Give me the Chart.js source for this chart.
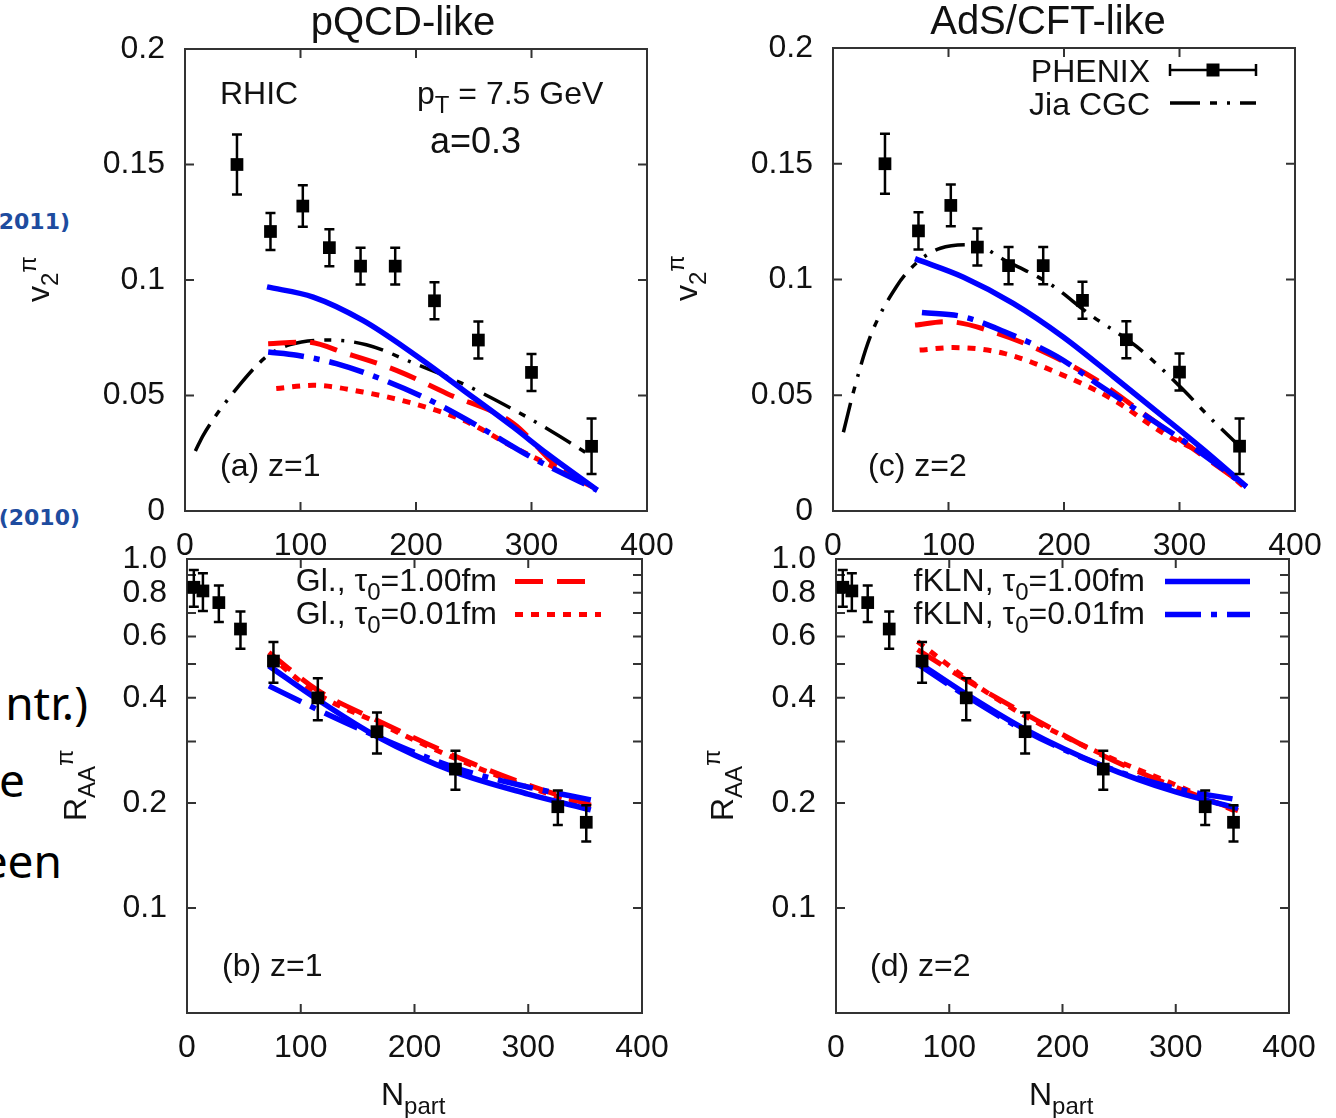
<!DOCTYPE html>
<html>
<head>
<meta charset="utf-8">
<script src="https://cdn.jsdelivr.net/npm/chart.js@4.4.1/dist/chart.umd.min.js"></script>
<style>
  body { margin: 0; background: #fff; }
  #page { position: relative; width: 1336px; height: 1118px; overflow: hidden; background: #fff; }
  #page canvas { position: absolute; }
  .slide { position: absolute; white-space: nowrap; text-align: right; }
  .ref { font-family: "DejaVu Sans", sans-serif; font-weight: bold; font-size: 22px; line-height: 26px; color: #1e4c9f; }
  .big { font-family: "Noto Sans", sans-serif; font-size: 46px; line-height: 54px; color: #000; }
</style>
</head>
<body>
<div id="page">
  <div class="slide ref" style="right:1266px; top:209px;">2011)</div>
  <div class="slide ref" style="right:1256px; top:505px;">(2010)</div>
  <div class="slide big" style="right:1248px; top:675px;">ntr.)</div>
  <div class="slide big" style="right:1311px; top:752px;">e</div>
  <div class="slide big" style="right:1274px; top:833px;">een</div>
  <canvas id="pa"></canvas>
  <canvas id="pc"></canvas>
  <canvas id="pb"></canvas>
  <canvas id="pd"></canvas>
</div>
<script>
// axis ticks
const xTicks = [0, 100, 200, 300, 400];
const v2Ticks = [0, 0.05, 0.1, 0.15, 0.2];
const v2TickText = ['0', '0.05', '0.1', '0.15', '0.2'];
const raaTicks = [0.1, 0.2, 0.3, 0.4, 0.5, 0.6, 0.7, 0.8, 0.9, 1.0];
const raaTickText = ['0.1', '0.2', '', '0.4', '', '0.6', '', '0.8', '', '1.0'];

// PHENIX data, v2 of pi0 at pT = 7.5 GeV
const nPartV2 = [45, 74, 102, 125, 152, 182, 216, 254, 300, 352];
const v2Phenix = [0.150, 0.121, 0.132, 0.114, 0.106, 0.106, 0.091, 0.074, 0.060, 0.028];
const v2Err = [0.013, 0.008, 0.009, 0.008, 0.008, 0.008, 0.008, 0.008, 0.008, 0.012];

// PHENIX data, R_AA
const nPartRaa = [6, 14, 28, 47, 76, 115, 167, 236, 326, 351];
const raaPhenix = [0.83, 0.81, 0.75, 0.63, 0.51, 0.40, 0.32, 0.25, 0.195, 0.176];
const raaErr = [0.10, 0.10, 0.09, 0.077, 0.068, 0.055, 0.043, 0.032, 0.022, 0.021];

// (a) z=1 v2 curves
const nJiaA = [9, 16, 48, 71, 91, 123, 157, 198, 241, 284, 319, 351];
const vJiaA = [0.026, 0.033, 0.055, 0.067, 0.072, 0.074, 0.072, 0.064, 0.055, 0.044, 0.034, 0.024];
const nBlueSolidA = [71, 111, 154, 198, 241, 284, 313, 357];
const vBlueSolidA = [0.097, 0.0926, 0.0825, 0.068, 0.0523, 0.0364, 0.025, 0.009];
const nBlueDashDotA = [72, 97, 131, 169, 212, 255, 299, 357];
const vBlueDashDotA = [0.0688, 0.0674, 0.0638, 0.0573, 0.048, 0.0364, 0.0235, 0.009];
const nRedDashA = [72, 105, 140, 183, 227, 284, 323, 356];
const vRedDashA = [0.0724, 0.0731, 0.0681, 0.0609, 0.0508, 0.038, 0.019, 0.0095];
const nRedDotA = [79, 111, 154, 198, 241, 284, 319, 345];
const vRedDotA = [0.053, 0.0544, 0.0515, 0.0465, 0.0393, 0.0278, 0.0191, 0.013];

// (c) z=2 v2 curves
const nJiaC = [9, 18, 32, 55, 72, 93, 121, 150, 188, 222, 263, 300, 329, 352];
const vJiaC = [0.034, 0.052, 0.075, 0.097, 0.107, 0.1135, 0.115, 0.108, 0.098, 0.085, 0.071, 0.054, 0.039, 0.028];
const nBlueSolidC = [71, 113, 156, 199, 243, 286, 321, 358];
const vBlueSolidC = [0.109, 0.101, 0.0897, 0.0753, 0.058, 0.0407, 0.0264, 0.0105];
const nBlueDashDotC = [77, 113, 148, 194, 228, 272, 315, 358];
const vBlueDashDotC = [0.0857, 0.0839, 0.0775, 0.0667, 0.0552, 0.0407, 0.0264, 0.0105];
const nRedDashC = [71, 98, 142, 185, 228, 272, 315, 358];
const vRedDashC = [0.0803, 0.0818, 0.0768, 0.0681, 0.0566, 0.041, 0.0257, 0.0105];
const nRedDotC = [75, 104, 148, 199, 243, 286, 324, 358];
const vRedDotC = [0.0695, 0.0706, 0.0681, 0.0587, 0.048, 0.0336, 0.0235, 0.0095];

// R_AA curves, (b) z=1 and (d) z=2
const nRaaCurve = [72, 115, 167, 236, 300, 355];
const raaRedDashB = [0.54, 0.42, 0.345, 0.272, 0.225, 0.197];
const raaRedDotB = [0.53, 0.41, 0.34, 0.268, 0.222, 0.195];
const raaBlueSolidB = [0.494, 0.395, 0.31, 0.245, 0.212, 0.191];
const raaBlueDashDotB = [0.433, 0.37, 0.31, 0.252, 0.222, 0.204];
const raaRedDashD = [0.55, 0.45, 0.36, 0.273, 0.222, 0.19];
const raaRedDotD = [0.58, 0.455, 0.355, 0.275, 0.225, 0.188];
const raaBlueSolidD = [0.507, 0.41, 0.325, 0.255, 0.215, 0.193];
const raaBlueDashDotD = [0.50, 0.405, 0.322, 0.255, 0.22, 0.204];

const FONT = '"Liberation Sans", Arial, sans-serif';
const INK = '#111';

function pts(xs, ys) {
    return xs.map((x, i) => ({ x: x, y: ys[i] }));
}

// line styles (same look in all four panels)
function curve(xs, ys, kind) {
    const st = {
        blueSolid: { c: '#0000ff', w: 5.5, d: [] },
        blueDashDot: { c: '#0000ff', w: 5.5, d: [36, 10, 6, 10] },
        redDash: { c: '#ff0000', w: 5, d: [28, 14] },
        redDot: { c: '#ff0000', w: 5, d: [8, 8] },
        jia: { c: '#000000', w: 3.5, d: [30, 10, 7, 10, 3, 10] },
    }[kind];
    return {
        data: pts(xs, ys),
        showLine: true,
        pointRadius: 0,
        borderColor: st.c,
        borderWidth: st.w,
        borderDash: st.d,
        borderCapStyle: 'butt',
        cubicInterpolationMode: 'monotone',
    };
}

function phenix(xs, ys, errs) {
    return {
        data: pts(xs, ys),
        errs: errs,
        showLine: false,
        pointStyle: 'rect',
        pointRadius: 9,
        pointBackgroundColor: '#000',
        pointBorderWidth: 0,
    };
}

// text with sub (1) / superscript (2) pieces
function drawRich(ctx, segs, x, y, size, align) {
    const small = size * 0.75;
    const parts = segs.map(s => {
        const sz = s[1] ? small : size;
        ctx.font = sz + 'px ' + FONT;
        return { t: s[0], m: s[1] || 0, sz: sz, w: ctx.measureText(s[0]).width };
    });
    const total = parts.reduce((a, p) => a + p.w, 0);
    let cx = align === 'right' ? x - total : align === 'center' ? x - total / 2 : x;
    parts.forEach(p => {
        ctx.font = p.sz + 'px ' + FONT;
        const dy = p.m === 1 ? size * 0.28 : p.m === 2 ? -size * 0.42 : 0;
        ctx.fillText(p.t, cx, y + dy);
        cx += p.w;
    });
}

// gnuplot look: box, inward mirrored ticks, error bars, labels, key
const gnuplotLook = {
    id: 'gp',
    beforeDatasetsDraw(chart) {
        const { ctx, chartArea: a, scales: { x, y } } = chart;
        ctx.save();
        ctx.strokeStyle = '#333';
        ctx.lineWidth = 2;
        ctx.setLineDash([]);
        ctx.strokeRect(a.left, a.top, a.right - a.left, a.bottom - a.top);
        ctx.beginPath();
        x.ticks.forEach(t => {
            if (t.value <= x.min || t.value >= x.max) return;
            const p = x.getPixelForValue(t.value);
            ctx.moveTo(p, a.bottom); ctx.lineTo(p, a.bottom - 9);
            ctx.moveTo(p, a.top); ctx.lineTo(p, a.top + 9);
        });
        y.ticks.forEach(t => {
            if (t.value <= y.min || t.value >= y.max) return;
            const p = y.getPixelForValue(t.value);
            ctx.moveTo(a.left, p); ctx.lineTo(a.left + 9, p);
            ctx.moveTo(a.right, p); ctx.lineTo(a.right - 9, p);
        });
        ctx.stroke();
        ctx.restore();
    },
    afterDatasetsDraw(chart, args, o) {
        const { ctx, chartArea: a, scales: { y } } = chart;
        ctx.save();
        // error bars
        ctx.strokeStyle = '#000';
        ctx.lineWidth = 2.5;
        chart.data.datasets.forEach((ds, i) => {
            if (!ds.errs) return;
            const meta = chart.getDatasetMeta(i);
            ds.data.forEach((d, j) => {
                const px = meta.data[j].x;
                const y1 = y.getPixelForValue(d.y + ds.errs[j]);
                const y2 = y.getPixelForValue(d.y - ds.errs[j]);
                ctx.beginPath();
                ctx.moveTo(px, y1); ctx.lineTo(px, y2);
                ctx.moveTo(px - 5, y1); ctx.lineTo(px + 5, y1);
                ctx.moveTo(px - 5, y2); ctx.lineTo(px + 5, y2);
                ctx.stroke();
            });
        });
        // labels
        ctx.fillStyle = INK;
        ctx.textBaseline = 'alphabetic';
        (o.texts || []).forEach(t => {
            drawRich(ctx, t.segs, a.left + t.dx, a.top + t.dy, t.size || 32, t.align || 'left');
        });
        if (o.ytitle) {
            ctx.save();
            ctx.translate(a.left + o.ytitle.dx, a.top + o.ytitle.dy);
            ctx.rotate(-Math.PI / 2);
            drawRich(ctx, o.ytitle.segs, 0, 0, 32, 'left');
            ctx.restore();
        }
        // key
        (o.key || []).forEach(k => {
            ctx.fillStyle = INK;
            drawRich(ctx, k.segs, a.left + k.dx, a.top + k.dy, 32, 'right');
            const x1 = a.left + k.x1, x2 = a.left + k.x2, ly = a.top + k.ly;
            const ds = chart.data.datasets[k.ds];
            ctx.beginPath();
            if (ds.errs) {
                ctx.strokeStyle = '#000';
                ctx.lineWidth = 2.5;
                ctx.setLineDash([]);
                ctx.moveTo(x1, ly); ctx.lineTo(x2, ly);
                ctx.moveTo(x1, ly - 6); ctx.lineTo(x1, ly + 6);
                ctx.moveTo(x2, ly - 6); ctx.lineTo(x2, ly + 6);
                ctx.stroke();
                ctx.fillStyle = '#000';
                ctx.fillRect((x1 + x2) / 2 - 6.5, ly - 6.5, 13, 13);
            } else {
                ctx.strokeStyle = ds.borderColor;
                ctx.lineWidth = ds.borderWidth;
                ctx.setLineDash(ds.borderDash);
                ctx.moveTo(x1, ly); ctx.lineTo(x2, ly);
                ctx.stroke();
            }
        });
        ctx.restore();
    }
};

function panel(id, box, logY, datasets, gp) {
    const cv = document.getElementById(id);
    cv.style.left = (box.l - 170) + 'px';
    cv.style.top = (box.t - 50) + 'px';
    cv.width = box.r - box.l + 215;
    cv.height = box.b - box.t + 155;
    const tickFont = { family: FONT, size: 32 };
    const yScale = logY ? {
        type: 'logarithmic', min: 0.05, max: 1.0,
        afterBuildTicks: s => { s.ticks = raaTicks.map(v => ({ value: v })); },
        ticks: { callback: (v, i) => raaTickText[i], autoSkip: false, padding: 12, font: tickFont, color: INK },
    } : {
        type: 'linear', min: 0, max: 0.2,
        afterBuildTicks: s => { s.ticks = v2Ticks.map(v => ({ value: v })); },
        ticks: { callback: (v, i) => v2TickText[i], autoSkip: false, padding: 12, font: tickFont, color: INK },
    };
    yScale.afterFit = s => { s.width = 170; };
    yScale.grid = { display: false };
    yScale.border = { display: false };
    new Chart(cv, {
        type: 'scatter',
        data: { datasets: datasets },
        options: {
            responsive: false,
            animation: false,
            events: [],
            layout: { padding: { top: 50, right: 45, left: 0, bottom: 0 } },
            plugins: { legend: { display: false }, tooltip: { enabled: false }, gp: gp },
            scales: {
                x: {
                    type: 'linear', min: 0, max: 400,
                    afterBuildTicks: s => { s.ticks = xTicks.map(v => ({ value: v })); },
                    afterFit: s => { s.height = 105; },
                    ticks: { autoSkip: false, maxRotation: 0, padding: 8, font: tickFont, color: INK },
                    grid: { display: false },
                    border: { display: false },
                },
                y: yScale,
            },
        },
        plugins: [gnuplotLook],
    });
}

const tau = (t) => [['Gl., '], ['τ'], ['0', 1], ['=' + t + 'fm']];
const tauK = (t) => [['fKLN, '], ['τ'], ['0', 1], ['=' + t + 'fm']];

// (a) pQCD-like, z=1
panel('pa', { l: 185, t: 49, r: 647, b: 511 }, false, [
    phenix(nPartV2, v2Phenix, v2Err),
    curve(nBlueSolidA, vBlueSolidA, 'blueSolid'),
    curve(nBlueDashDotA, vBlueDashDotA, 'blueDashDot'),
    curve(nRedDashA, vRedDashA, 'redDash'),
    curve(nRedDotA, vRedDotA, 'redDot'),
    curve(nJiaA, vJiaA, 'jia'),
], {
    texts: [
        { segs: [['pQCD-like']], dx: 218, dy: -14, size: 40, align: 'center' },
        { segs: [['RHIC']], dx: 35, dy: 55 },
        { segs: [['p'], ['T', 1], [' = 7.5 GeV']], dx: 232, dy: 55 },
        { segs: [['a=0.3']], dx: 245, dy: 104, size: 36 },
        { segs: [['(a) z=1']], dx: 35, dy: 427 },
    ],
    ytitle: { segs: [['v'], ['2', 1], ['π', 2]], dx: -136, dy: 253 },
});

// (c) AdS/CFT-like, z=2
panel('pc', { l: 833, t: 48, r: 1295, b: 511 }, false, [
    phenix(nPartV2, v2Phenix, v2Err),
    curve(nBlueSolidC, vBlueSolidC, 'blueSolid'),
    curve(nBlueDashDotC, vBlueDashDotC, 'blueDashDot'),
    curve(nRedDashC, vRedDashC, 'redDash'),
    curve(nRedDotC, vRedDotC, 'redDot'),
    curve(nJiaC, vJiaC, 'jia'),
], {
    texts: [
        { segs: [['AdS/CFT-like']], dx: 215, dy: -14, size: 40, align: 'center' },
        { segs: [['(c) z=2']], dx: 35, dy: 428 },
    ],
    ytitle: { segs: [['v'], ['2', 1], ['π', 2]], dx: -136, dy: 253 },
    key: [
        { segs: [['PHENIX']], dx: 317, dy: 33.5, ds: 0, x1: 337, x2: 423, ly: 22 },
        { segs: [['Jia CGC']], dx: 317, dy: 66.5, ds: 5, x1: 337, x2: 423, ly: 55 },
    ],
});

// (b) z=1 R_AA
panel('pb', { l: 187, t: 559, r: 642, b: 1013 }, true, [
    phenix(nPartRaa, raaPhenix, raaErr),
    curve(nRaaCurve, raaBlueSolidB, 'blueSolid'),
    curve(nRaaCurve, raaBlueDashDotB, 'blueDashDot'),
    curve(nRaaCurve, raaRedDashB, 'redDash'),
    curve(nRaaCurve, raaRedDotB, 'redDot'),
], {
    texts: [
        { segs: [['(b) z=1']], dx: 35, dy: 417 },
        { segs: [['N'], ['part', 1]], dx: 194, dy: 546 },
    ],
    ytitle: { segs: [['R'], ['AA', 1], ['π', 2]], dx: -101, dy: 262 },
    key: [
        { segs: tau('1.00'), dx: 310, dy: 32, ds: 3, x1: 328, x2: 410, ly: 22.5 },
        { segs: tau('0.01'), dx: 310, dy: 65, ds: 4, x1: 328, x2: 414, ly: 55.5 },
    ],
});

// (d) z=2 R_AA
panel('pd', { l: 836, t: 559, r: 1289, b: 1013 }, true, [
    phenix(nPartRaa, raaPhenix, raaErr),
    curve(nRaaCurve, raaBlueSolidD, 'blueSolid'),
    curve(nRaaCurve, raaBlueDashDotD, 'blueDashDot'),
    curve(nRaaCurve, raaRedDashD, 'redDash'),
    curve(nRaaCurve, raaRedDotD, 'redDot'),
], {
    texts: [
        { segs: [['(d) z=2']], dx: 34, dy: 417 },
        { segs: [['N'], ['part', 1]], dx: 193, dy: 546 },
    ],
    ytitle: { segs: [['R'], ['AA', 1], ['π', 2]], dx: -103, dy: 262 },
    key: [
        { segs: tauK('1.00'), dx: 309, dy: 32, ds: 1, x1: 329, x2: 414, ly: 22.5 },
        { segs: tauK('0.01'), dx: 309, dy: 65, ds: 2, x1: 329, x2: 414, ly: 55.5 },
    ],
});
</script>
</body>
</html>
